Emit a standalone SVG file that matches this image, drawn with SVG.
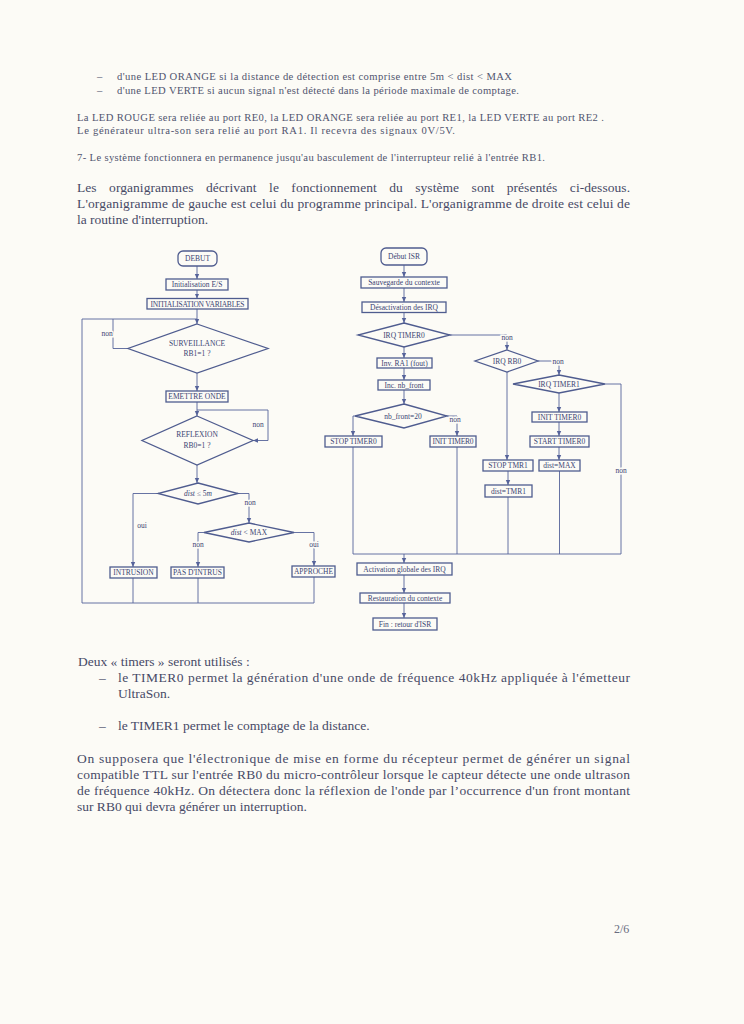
<svg xmlns="http://www.w3.org/2000/svg" width="744" height="1024" viewBox="0 0 744 1024">
<style>
.bg{fill:#fcfbf6}
.sm{font-family:"Liberation Serif",serif;font-size:10.6px;fill:#50546e}
.tx{font-family:"Liberation Serif",serif;font-size:13.5px;fill:#474a66}
.bx{fill:none;stroke:#4f5c8f;stroke-width:1.3}
.ln{fill:none;stroke:#56639a;stroke-width:0.9}
.ar{marker-end:url(#ah)}
.ft{font-family:"Liberation Serif",serif;font-size:7.5px;fill:#3a4472;text-anchor:middle}
.lb{font-family:"Liberation Serif",serif;font-size:7.5px;fill:#3a4472;text-anchor:middle;stroke:#fcfbf6;stroke-width:3;paint-order:stroke}
</style>
<defs>
<marker id="ah" markerWidth="6" markerHeight="6" refX="5" refY="3" orient="auto" markerUnits="userSpaceOnUse">
<path d="M0,0.8 L5,3 L0,5.2 Z" fill="#56639a"/>
</marker>
</defs>
<rect class="bg" x="0" y="0" width="744" height="1024"/>

<g id="top-text">
<text class="sm" x="97" y="80">–</text>
<text class="sm" x="117" y="80" textLength="395">d'une LED ORANGE si la distance de détection est comprise entre  5m &lt; dist &lt; MAX</text>
<text class="sm" x="97" y="94">–</text>
<text class="sm" x="117" y="94" textLength="402">d'une LED VERTE si aucun signal n'est détecté dans la période maximale de comptage.</text>
<text class="sm" x="77" y="121" textLength="527">La LED ROUGE sera reliée au port RE0, la LED ORANGE sera reliée au port RE1, la LED VERTE au port RE2 .</text>
<text class="sm" x="77" y="134" textLength="378">Le générateur ultra-son sera relié au port RA1. Il recevra des signaux 0V/5V.</text>
<text class="sm" x="77" y="161" textLength="468">7- Le système fonctionnera en permanence jusqu'au basculement de l'interrupteur relié à l'entrée RB1.</text>
<text class="tx" x="77" y="192" word-spacing="9" textLength="553">Les organigrammes décrivant le fonctionnement du système sont présentés ci-dessous.</text>
<text class="tx" x="77" y="208" textLength="553">L'organigramme de gauche est celui du programme principal. L'organigramme de droite est celui de</text>
<text class="tx" x="77" y="224">la routine d'interruption.</text>
</g>

<g id="connectors">
<path class="ln ar" d="M197,266 V279"/>
<path class="ln ar" d="M197,290 V298.5"/>
<path class="ln ar" d="M197,309 V324"/>
<path class="ln" d="M128,348.5 H113 V319"/>
<path class="ln ar" d="M197,373 V391"/>
<path class="ln ar" d="M197,402 V416"/>
<path class="ln ar" d="M197,410 H268 V440.5 H253"/>
<path class="ln ar" d="M197,465 V483"/>
<path class="ln ar" d="M158,493.5 H133 V567"/>
<path class="ln ar" d="M238,493.5 H249 V523"/>
<path class="ln ar" d="M204,532.5 H198 V567"/>
<path class="ln ar" d="M294,532.5 H314 V566"/>
<path class="ln" d="M133,578 V603"/>
<path class="ln" d="M198,578 V603"/>
<path class="ln" d="M314,577 V603 H82 V319 H197"/>

<path class="ln ar" d="M404,265 V277"/>
<path class="ln ar" d="M404,288 V302"/>
<path class="ln ar" d="M404,312.5 V323"/>
<path class="ln ar" d="M404,347 V358"/>
<path class="ln ar" d="M404,368 V380"/>
<path class="ln ar" d="M404,390 V404"/>
<path class="ln ar" d="M450,335 H507 V350"/>
<path class="ln ar" d="M538,361 H559 V375"/>
<path class="ln ar" d="M507,372 V460"/>
<path class="ln ar" d="M559,393 V412"/>
<path class="ln ar" d="M559,422 V436"/>
<path class="ln ar" d="M559,447 V460"/>
<path class="ln ar" d="M508,471 V485"/>
<path class="ln" d="M605,384 H621 V554"/>
<path class="ln ar" d="M355,416 H353 V436"/>
<path class="ln ar" d="M447,416 H457 V436"/>
<path class="ln" d="M353,447 V554 H621"/>
<path class="ln" d="M457,447 V554"/>
<path class="ln" d="M508,497 V554"/>
<path class="ln" d="M559.5,471 V554"/>
<path class="ln ar" d="M404,554 V563"/>
<path class="ln ar" d="M404,575 V593"/>
<path class="ln ar" d="M404,603 V618"/>

<text class="lb" x="107" y="336">non</text>
<text class="lb" x="258" y="427">non</text>
<text class="lb" x="142" y="528">oui</text>
<text class="lb" x="250" y="505">non</text>
<text class="lb" x="198" y="547">non</text>
<text class="lb" x="314" y="547">oui</text>
<text class="lb" x="507" y="340">non</text>
<text class="lb" x="558" y="364">non</text>
<text class="lb" x="621" y="473">non</text>
<text class="lb" x="455" y="422">non</text>
</g>

<g id="debut"><rect class="bx" x="178" y="251" width="39" height="15" rx="5"/><text class="ft" x="197.5" y="261.2">DEBUT</text></g>
<g id="init-es"><rect class="bx" x="166" y="279" width="62" height="11"/><text class="ft" x="197" y="287.3">Initialisation E/S</text></g>
<g id="init-var"><rect class="bx" x="147" y="298.5" width="101" height="10.5"/><text class="ft" x="197.5" y="306.5" textLength="94">INITIALISATION VARIABLES</text></g>
<g id="surveillance"><polygon class="bx" points="197,324 268,348.5 197,373 128,348.5"/><text class="ft" x="197" y="346">SURVEILLANCE</text><text class="ft" x="197" y="356">RB1=1 ?</text></g>
<g id="emettre"><rect class="bx" x="166" y="391" width="62" height="11"/><text class="ft" x="197" y="399.3">EMETTRE ONDE</text></g>
<g id="reflexion"><polygon class="bx" points="197,416 253,440.5 197,465 142,440.5"/><text class="ft" x="197" y="437">REFLEXION</text><text class="ft" x="197" y="448">RB0=1 ?</text></g>
<g id="dist5"><polygon class="bx" points="198,483 238,493.5 198,504 158,493.5"/><text class="ft" x="198" y="496"><tspan font-style="italic">dist</tspan> ≤ 5<tspan font-style="italic">m</tspan></text></g>
<g id="distmax"><polygon class="bx" points="249,523 294,532.5 249,542 204,532.5"/><text class="ft" x="249" y="535"><tspan font-style="italic">dist</tspan> &lt; MAX</text></g>
<g id="intrusion"><rect class="bx" x="110" y="567" width="47" height="11"/><text class="ft" x="133.5" y="575.3">INTRUSION</text></g>
<g id="pas-intrus"><rect class="bx" x="171" y="567" width="53" height="11"/><text class="ft" x="197.5" y="575.3">PAS D'INTRUS</text></g>
<g id="approche"><rect class="bx" x="292" y="566" width="43" height="11"/><text class="ft" x="313.5" y="574.3">APPROCHE</text></g>

<g id="debut-isr"><rect class="bx" x="381" y="248" width="46" height="17" rx="5"/><text class="ft" x="404" y="259.2">Début ISR</text></g>
<g id="sauvegarde"><rect class="bx" x="361" y="277" width="86" height="11"/><text class="ft" x="404" y="285.3">Sauvegarde du contexte</text></g>
<g id="desactivation"><rect class="bx" x="362" y="302" width="84" height="10.5"/><text class="ft" x="404" y="309.8">Désactivation des IRQ</text></g>
<g id="irq-timer0"><polygon class="bx" points="404,323 450,335 404,347 358,335"/><text class="ft" x="404" y="337.6">IRQ TIMER0</text></g>
<g id="inv-ra1"><rect class="bx" x="377" y="358" width="55" height="10"/><text class="ft" x="404.5" y="365.8">Inv. RA1 (fout)</text></g>
<g id="inc-nb"><rect class="bx" x="378" y="380" width="52" height="10"/><text class="ft" x="404" y="387.8">Inc. nb_front</text></g>
<g id="nb-front"><polygon class="bx" points="404,404 447,416 404,428 355,416"/><text class="ft" x="403" y="418.6">nb_front=20</text></g>
<g id="stop-timer0"><rect class="bx" x="325" y="436" width="57" height="11"/><text class="ft" x="353.5" y="444.3">STOP TIMER0</text></g>
<g id="init-timer0-a"><rect class="bx" x="430" y="436" width="46" height="11"/><text class="ft" x="453" y="444.3" textLength="41">INIT TIMER0</text></g>
<g id="irq-rb0"><polygon class="bx" points="507,350 538,361 507,372 475,361"/><text class="ft" x="507" y="363.6">IRQ RB0</text></g>
<g id="irq-timer1"><polygon class="bx" points="559,375 605,384 559,393 513,384"/><text class="ft" x="559" y="386.6">IRQ TIMER1</text></g>
<g id="init-timer0-b"><rect class="bx" x="532" y="412" width="55" height="10"/><text class="ft" x="559.5" y="419.8">INIT TIMER0</text></g>
<g id="start-timer0"><rect class="bx" x="530" y="436" width="59" height="11"/><text class="ft" x="559.5" y="444.3">START TIMER0</text></g>
<g id="stop-tmr1"><rect class="bx" x="483" y="460" width="50" height="11"/><text class="ft" x="508" y="468.3">STOP TMR1</text></g>
<g id="dist-max"><rect class="bx" x="539" y="460" width="41" height="11"/><text class="ft" x="559.5" y="468.3">dist=MAX</text></g>
<g id="dist-tmr1"><rect class="bx" x="485" y="485" width="47" height="12"/><text class="ft" x="508.5" y="493.8">dist=TMR1</text></g>
<g id="activation"><rect class="bx" x="357" y="563" width="95" height="12"/><text class="ft" x="404.5" y="571.8">Activation globale des IRQ</text></g>
<g id="restauration"><rect class="bx" x="360" y="593" width="90" height="10"/><text class="ft" x="405" y="600.8">Restauration du contexte</text></g>
<g id="fin-isr"><rect class="bx" x="373" y="618" width="64" height="12"/><text class="ft" x="405" y="626.8">Fin : retour d'ISR</text></g>

<g id="bottom-text">
<text class="tx" x="78" y="666">Deux « timers » seront utilisés :</text>
<text class="tx" x="99" y="682">–</text>
<text class="tx" x="118" y="682" textLength="512">le TIMER0 permet la génération d'une onde de fréquence 40kHz appliquée à l'émetteur</text>
<text class="tx" x="118" y="698">UltraSon.</text>
<text class="tx" x="99" y="730">–</text>
<text class="tx" x="118" y="730">le TIMER1 permet le comptage de la distance.</text>
<text class="tx" x="77" y="763" textLength="553">On supposera que l'électronique de mise en forme du récepteur permet de générer un signal</text>
<text class="tx" x="77" y="779" textLength="553">compatible TTL sur l'entrée RB0 du micro-contrôleur lorsque le capteur détecte une onde ultrason</text>
<text class="tx" x="77" y="795" textLength="553">de fréquence 40kHz. On détectera donc la réflexion de l'onde par l’occurrence d'un front montant</text>
<text class="tx" x="77" y="811">sur RB0 qui devra générer un interruption.</text>
<text class="tx" x="614" y="933" style="font-size:12px;fill:#6a6c80">2/6</text>
</g>
</svg>
